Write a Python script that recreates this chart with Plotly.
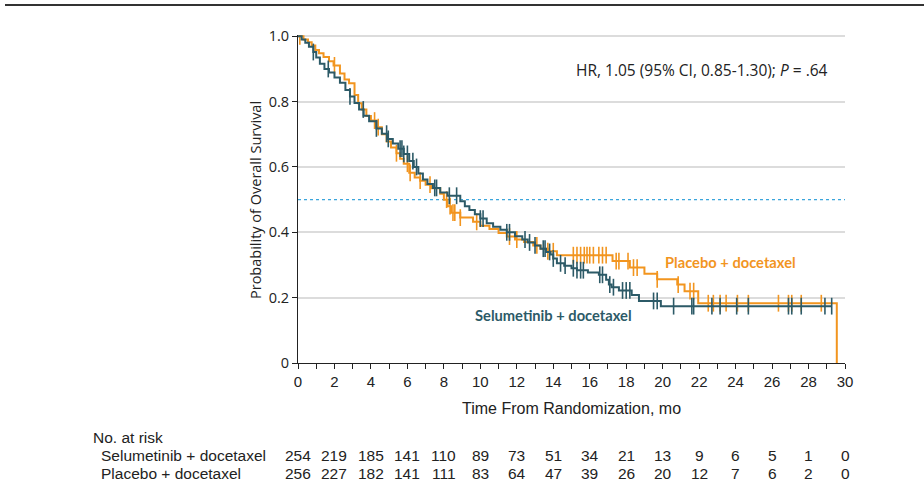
import numpy as np
import plotly.graph_objects as go

# ---------------- data ----------------
sel_t = [0, 0.2, 0.4, 0.6, 0.84, 1.0, 1.2, 1.45, 1.7, 2.0, 2.3, 2.6, 2.85, 3.1, 3.35, 3.6, 3.9,
         4.3, 4.6, 4.9, 5.2, 5.5, 5.8, 6.1, 6.35, 6.6, 6.85, 7.1, 7.4, 7.8, 8.2, 8.9, 9.15, 9.4,
         9.7, 10.0, 10.35, 10.7, 11.1, 11.45, 11.9, 12.3, 12.6, 13.0, 13.3, 13.6, 13.85, 14.0,
         14.2, 14.6, 15.0, 15.3, 15.9, 16.5, 16.9, 17.05, 17.2, 17.6, 18.3, 18.7, 19.9, 29.27]
sel_s = [1.0, 0.99, 0.98, 0.968, 0.952, 0.935, 0.916, 0.9, 0.889, 0.874, 0.858, 0.836, 0.816,
         0.796, 0.776, 0.757, 0.74, 0.718, 0.702, 0.686, 0.672, 0.656, 0.64, 0.618, 0.6, 0.58,
         0.562, 0.548, 0.536, 0.522, 0.512, 0.495, 0.48, 0.468, 0.455, 0.442, 0.428, 0.417,
         0.408, 0.4, 0.388, 0.378, 0.369, 0.36, 0.35, 0.34, 0.332, 0.32, 0.305, 0.298, 0.29,
         0.284, 0.277, 0.27, 0.255, 0.24, 0.232, 0.222, 0.208, 0.19, 0.174, 0.174]
sel_cens = [0.84, 1.66, 2.85, 3.58, 4.3, 4.86, 4.95, 5.6, 5.7, 5.8, 6.0, 6.3, 6.5, 7.5, 7.6,
            8.3, 8.7, 10.0, 10.15, 11.45, 11.6, 12.45, 12.7, 13.0, 13.45, 13.55, 13.8, 14.0,
            14.4, 14.65, 15.1, 15.3, 15.5, 15.65, 16.55, 16.7, 17.1, 17.3, 17.8, 18.0, 18.2,
            19.5, 19.7, 20.6, 21.6, 21.7, 22.7, 23.15, 24.06, 24.7, 26.9, 27.08, 27.6, 28.9, 29.27]

pla_t = [0, 0.3, 0.55, 0.75, 0.95, 1.15, 1.4, 1.7, 1.95, 2.3, 2.55, 2.8, 3.1, 3.3, 3.5, 3.75,
         4.0, 4.3, 4.6, 4.86, 5.1, 5.4, 5.6, 5.8, 6.1, 6.4, 6.7, 7.0, 7.3, 7.8, 8.0, 8.2, 8.4,
         8.9, 9.6, 10.0, 10.5, 11.0, 11.45, 11.9, 12.4, 12.9, 13.3, 13.7, 14.2, 17.25, 18.2,
         19.0, 19.7, 20.8, 21.2, 21.95, 29.55]
pla_s = [1.0, 0.99, 0.982, 0.972, 0.958, 0.948, 0.937, 0.924, 0.911, 0.886, 0.868, 0.856, 0.82,
         0.795, 0.776, 0.756, 0.742, 0.722, 0.7, 0.678, 0.66, 0.642, 0.625, 0.61, 0.582, 0.568,
         0.558, 0.546, 0.535, 0.518, 0.5, 0.48, 0.46, 0.445, 0.432, 0.42, 0.41, 0.398, 0.387,
         0.378, 0.37, 0.36, 0.35, 0.342, 0.33, 0.312, 0.292, 0.273, 0.256, 0.24, 0.22, 0.183, 0.0]
pla_cens = [0.1, 2.0, 4.2, 4.4, 5.4, 6.0, 6.15, 6.7, 7.24, 8.15, 8.34, 8.5, 8.6, 8.9, 9.8, 11.6,
            12.0, 13.1, 13.7, 14.0, 15.1, 15.3, 15.5, 15.7, 15.85, 16.0, 16.2, 16.5, 16.7, 16.9,
            17.45, 17.6, 18.1, 18.4, 18.6, 19.7, 20.85, 21.5, 21.7, 22.5, 22.78, 23.15, 23.48,
            24.1, 24.7, 26.35, 26.9, 27.08, 27.6, 28.7]

risk_times = [0, 2, 4, 6, 8, 10, 12, 14, 16, 18, 20, 22, 24, 26, 28, 30]
sel_risk = [254, 219, 185, 141, 110, 89, 73, 51, 34, 21, 13, 9, 6, 5, 1, 0]
pla_risk = [256, 227, 182, 141, 111, 83, 64, 47, 39, 26, 20, 12, 7, 6, 2, 0]

sel_name = "Selumetinib + docetaxel"
pla_name = "Placebo + docetaxel"
hr_text = "HR, 1.05 (95% CI, 0.85-1.30); <i>P</i> = .64"

# ---------------- styles ----------------
C_SEL = "#2c5a67"
C_PLA = "#f2951f"
NARROW = "Liberation Sans, Arial, sans-serif"
HUMAN = "Open Sans, Noto Sans, sans-serif"
LABEL = "Lato, Open Sans, sans-serif"
TXT = "#222"


def step_lookup(times, surv, pts):
    idx = np.searchsorted(np.array(times), np.array(pts), side="right") - 1
    return [surv[i] for i in idx]


fig = go.Figure()

# 0.5 reference line
fig.add_trace(go.Scatter(x=[0, 30], y=[0.5, 0.5], mode="lines",
                         line=dict(color="#3aa5dc", width=1.2, dash="dot"),
                         hoverinfo="skip", showlegend=False))

for t, s, cens, col in [(pla_t, pla_s, pla_cens, C_PLA), (sel_t, sel_s, sel_cens, C_SEL)]:
    fig.add_trace(go.Scatter(x=t, y=s, mode="lines", line=dict(color=col, width=2, shape="hv"),
                             showlegend=False))
    fig.add_trace(go.Scatter(x=cens, y=step_lookup(t, s, cens), mode="markers",
                             marker=dict(symbol="line-ns", size=12,
                                         line=dict(color=col, width=1.6)),
                             showlegend=False))

W, H = 924, 502
ML, MR, MT, MB = 298, 79, 35, 139
PH = H - MT - MB
PW = W - ML - MR


def px2paper_y(ypx):
    return (H - MB - ypx) / PH


def px2paper_x(xpx):
    return (xpx - ML) / PW


annotations = []
# risk table
TS = 15.5
annotations.append(dict(text="No. at risk", x=px2paper_x(91), y=px2paper_y(437), xref="paper",
                        yref="paper", xanchor="left", yanchor="middle", showarrow=False,
                        font=dict(family=NARROW, size=TS, color=TXT)))
for row_name, vals, ypx in [(sel_name, sel_risk, 455), (pla_name, pla_risk, 473)]:
    annotations.append(dict(text=row_name, x=px2paper_x(99), y=px2paper_y(ypx), xref="paper",
                            yref="paper", xanchor="left", yanchor="middle", showarrow=False,
                            font=dict(family=NARROW, size=TS, color=TXT)))
    for tt, v in zip(risk_times, vals):
        annotations.append(dict(text=str(v), x=tt, y=px2paper_y(ypx), xref="x", yref="paper",
                                xanchor="center", yanchor="middle", showarrow=False,
                                font=dict(family=NARROW, size=TS, color=TXT)))
# axis titles
annotations.append(dict(text="Time From Randomization, mo", x=0.5, y=px2paper_y(408),
                        xref="paper", yref="paper", xanchor="center", yanchor="middle",
                        showarrow=False, font=dict(family=NARROW, size=16, color=TXT)))
annotations.append(dict(text="Probability of Overall Survival", x=px2paper_x(255),
                        y=px2paper_y(200), xref="paper", yref="paper", textangle=-90,
                        xanchor="center", yanchor="middle", showarrow=False,
                        font=dict(family=HUMAN, size=14.5, color=TXT)))
# HR text
annotations.append(dict(text=hr_text, x=29.2, y=px2paper_y(70), xref="x", yref="paper",
                        xanchor="right", yanchor="middle", showarrow=False,
                        font=dict(family=HUMAN, size=15.5, color=TXT)))
# curve labels
annotations.append(dict(text="<b>" + pla_name + "</b>", x=20.0, y=px2paper_y(262), xref="x",
                        yref="paper", xanchor="left", yanchor="middle", showarrow=False,
                        font=dict(family=LABEL, size=14.7, color=C_PLA)))
annotations.append(dict(text="<b>" + sel_name + "</b>", x=9.6, y=px2paper_y(315), xref="x",
                        yref="paper", xanchor="left", yanchor="middle", showarrow=False,
                        font=dict(family=LABEL, size=14.7, color=C_SEL)))

shapes = [dict(type="line", xref="paper", yref="paper", x0=px2paper_x(5), x1=px2paper_x(924),
               y0=px2paper_y(5), y1=px2paper_y(5), line=dict(color="#333", width=2))]

fig.update_layout(
    width=W, height=H,
    margin=dict(l=ML, r=MR, t=MT, b=MB, pad=0),
    paper_bgcolor="white", plot_bgcolor="white",
    annotations=annotations, shapes=shapes,
    xaxis=dict(range=[0, 30], tickvals=risk_times, ticks="outside", ticklen=5, tickcolor=TXT,
               showline=True, linecolor=TXT, linewidth=1, showgrid=False, zeroline=False,
               minor=dict(dtick=1, ticks="outside", ticklen=5, tickcolor=TXT, showgrid=False),
               tickfont=dict(family=NARROW, size=15, color=TXT)),
    yaxis=dict(range=[0, 1.004], tickvals=[0, 0.2, 0.4, 0.6, 0.8, 1.0],
               ticktext=["0", "0.2", "0.4", "0.6", "0.8", "1.0"], ticks="outside", ticklen=5,
               tickcolor=TXT, showline=True, linecolor=TXT, linewidth=1, showgrid=True,
               gridcolor="#dcdcdc", gridwidth=1.5, zeroline=False,
               tickfont=dict(family=HUMAN, size=14.5, color=TXT)),
)

fig.write_html("out.html", config={"displayModeBar": False},
               post_script="document.body.style.margin='0px';")
